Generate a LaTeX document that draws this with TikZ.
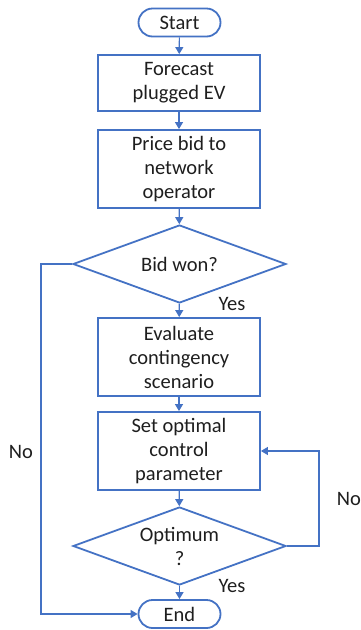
\documentclass[tikz,border=0pt]{standalone}
\usepackage{fontspec}
\setmainfont{Carlito}
\usetikzlibrary{arrows.meta,shapes.geometric}
\definecolor{ofblue}{HTML}{4472C4}
\definecolor{txt}{HTML}{1E1E1E}
\begin{document}
\begin{tikzpicture}[x=1pt,y=-1pt,
  every node/.style={text=txt,font=\fontsize{20.5}{24}\selectfont},
  term/.style={draw=ofblue,line width=1.8pt,rectangle,rounded corners=14pt,minimum width=82pt,minimum height=28pt,inner sep=0pt},
  proc/.style={draw=ofblue,line width=1.8pt,rectangle,minimum width=162pt,inner sep=0pt,align=center},
  dec/.style={draw=ofblue,line width=1.8pt,diamond,aspect=2.73,minimum width=213pt,minimum height=78pt,inner sep=0pt,align=center},
  conn/.style={draw=ofblue,line width=1.2pt,-{Triangle[width=8pt,length=7pt]}},
  lbl/.style={inner sep=0pt}]
\useasboundingbox (0,0) rectangle (360,630);
\node[term] (start) at (179.5,22.5) {Start};
\node[proc,minimum height=56pt] (fc) at (179,83) {Forecast\\plugged EV};
\node[proc,minimum height=78pt] (pb) at (179,169) {Price bid to\\network\\operator};
\node[dec] (bid) at (179.5,264) {Bid won?};
\node[proc,minimum height=78pt] (ev) at (179,357) {Evaluate\\contingency\\scenario};
\node[proc,minimum height=78pt] (set) at (179,451) {Set optimal\\control\\parameter};
\node[dec] (opt) at (179.5,546) {Optimum\\?};
\node[term] (end) at (179.5,614) {End};
\draw[conn] (start) -- (fc);
\draw[conn] (fc) -- (pb);
\draw[conn] (pb) -- (bid);
\draw[conn] (bid) -- (ev);
\draw[conn] (ev) -- (set);
\draw[conn] (set) -- (opt);
\draw[conn] (opt) -- (end);
\coordinate (rloop) at (319,546);
\coordinate (lloop) at (41,264);
\draw[conn] (opt.east) -- (rloop) |- (set.east);
\draw[conn] (bid.west) -- (lloop) |- (end.west);
\node[lbl] (yes1) at (232,304) {Yes};
\node[lbl] (yes2) at (232,586) {Yes};
\node[lbl] (no1) at (21,452) {No};
\node[lbl] (no2) at (349,499) {No};
\end{tikzpicture}
\end{document}
